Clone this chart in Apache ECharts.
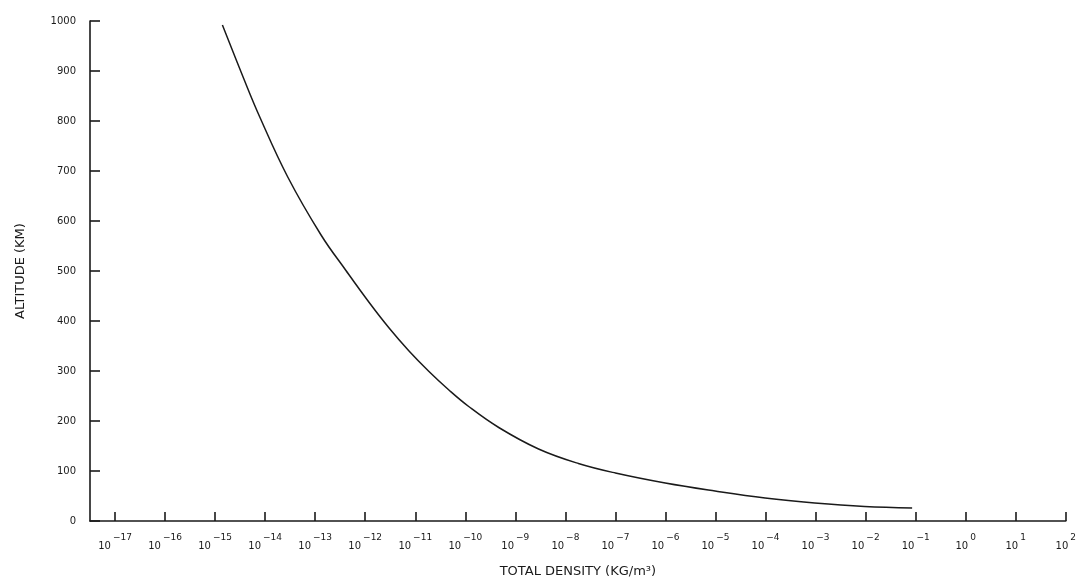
<!DOCTYPE html>
<html>
<head>
<meta charset="utf-8">
<script src="https://cdn.jsdelivr.net/npm/echarts@6/dist/echarts.min.js"></script>
<style>
  /* 图表容器必须有尺寸 */
  html, body { margin: 0; padding: 0; background: #fff; }
  #chart { width: 1079px; height: 583px; }
</style>
</head>
<body>
<div id="chart"></div>
<script>
// 读自原图的曲线点：总密度 (kg/m^3) 与高度 (km)
const density = [1.40e-15, 3.59e-15, 7.73e-15, 2.83e-14, 1.31e-13, 4.12e-13, 1.20e-12, 3.0e-12,
  7.5e-12, 1.88e-11, 4.7e-11, 1.17e-10, 4.66e-10, 2.91e-9, 1.82e-8, 1.0e-7,
  9.9e-7, 9.8e-6, 9.8e-5, 9.6e-4, 9.5e-3, 8.5e-2]
const altitude = [992, 889, 809, 688, 572, 501, 437, 386,
  340, 299, 262, 229, 187, 144, 115, 96,
  76, 60, 46, 36, 29, 26]
// x轴刻度：10 的幂次
const decadeTicks = [-17, -16, -15, -14, -13, -12, -11, -10, -9, -8, -7, -6, -5, -4, -3, -2, -1, 0, 1, 2]
const altitudeTicks = [0, 100, 200, 300, 400, 500, 600, 700, 800, 900, 1000]

const font = '"DejaVu Sans", "Liberation Sans", sans-serif'
const ink = '#1a1a1a'

// 横轴用 log10 值画，标签写成 10^n
const points = density.map((d, i) => [Math.log10(d), altitude[i]])

const option = {
  animation: false,
  backgroundColor: '#fff',
  grid: { left: 90, right: 10, top: 21, bottom: 61 },
  xAxis: {
    type: 'value',
    min: -17.5,
    max: 2,
    name: 'TOTAL DENSITY (KG/m³)',
    nameLocation: 'middle',
    nameGap: 44,
    nameTextStyle: { fontFamily: font, fontSize: 13, color: ink },
    splitLine: { show: false },
    axisLine: { onZero: false, lineStyle: { color: ink, width: 1.6 } },
    axisTick: {
      inside: true,
      length: 9,
      customValues: decadeTicks,
      lineStyle: { color: ink, width: 1.6 }
    },
    axisLabel: {
      margin: 12,
      customValues: decadeTicks,
      fontFamily: font,
      color: ink,
      formatter: v => '{b|10}{e|' + (v < 0 ? '−' + (-v) : v) + '}',
      rich: {
        b: { fontFamily: font, fontSize: 10, color: ink, lineHeight: 18, verticalAlign: 'bottom' },
        e: { fontFamily: font, fontSize: 9, color: ink, lineHeight: 18, verticalAlign: 'top', padding: [0, 0, 0, 2] }
      }
    }
  },
  yAxis: {
    type: 'value',
    min: 0,
    max: 1000,
    interval: 100,
    name: 'ALTITUDE (KM)',
    nameLocation: 'middle',
    nameGap: 63,
    nameTextStyle: { fontFamily: font, fontSize: 13, color: ink },
    splitLine: { show: false },
    axisLine: { show: true, onZero: false, lineStyle: { color: ink, width: 1.6 } },
    axisTick: {
      inside: true,
      length: 10,
      customValues: altitudeTicks,
      lineStyle: { color: ink, width: 1.6 }
    },
    axisLabel: {
      margin: 14,
      fontFamily: font,
      fontSize: 10,
      color: ink,
      formatter: v => String(v)
    }
  },
  series: [
    {
      type: 'line',
      data: points,
      smooth: 0.4,
      showSymbol: false,
      lineStyle: { color: ink, width: 1.5 }
    }
  ]
}

const myChart = echarts.init(document.getElementById('chart'))
myChart.setOption(option)
</script>
</body>
</html>
